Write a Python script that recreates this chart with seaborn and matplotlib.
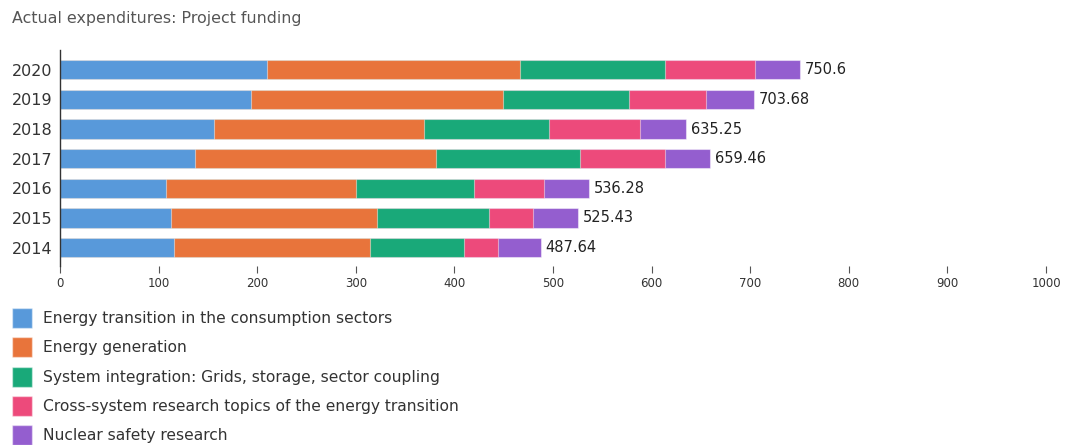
import numpy as np
import pandas as pd
import seaborn as sns
import matplotlib
matplotlib.use("Agg")
import matplotlib.pyplot as plt
from matplotlib.patches import Patch

# Project funding per year (million EUR), broken down by research area
years = ["2020", "2019", "2018", "2017", "2016", "2015", "2014"]
consumption = [210.1, 194.2, 156.0, 137.4, 108.0, 112.1, 115.8]
generation = [256.2, 255.3, 212.7, 244.4, 192.0, 209.9, 199.1]
integration = [146.8, 127.4, 127.0, 145.1, 119.7, 113.3, 95.0]
cross_system = [91.6, 78.1, 92.3, 86.2, 71.3, 44.6, 34.8]
nuclear = [45.9, 48.68, 47.25, 46.36, 45.28, 45.53, 42.94]

categories = [
    "Energy transition in the consumption sectors",
    "Energy generation",
    "System integration: Grids, storage, sector coupling",
    "Cross-system research topics of the energy transition",
    "Nuclear safety research",
]
colors = ["#5899DA", "#E8743B", "#19A979", "#ED4A7B", "#945ECF"]

series = [consumption, generation, integration, cross_system, nuclear]
df = pd.DataFrame({"year": years})
for name, vals in zip(categories, series):
    df[name] = vals
cum = df[categories].cumsum(axis=1)
totals = df[categories].sum(axis=1).round(2)

sns.set_style("white")
plt.rcParams["font.family"] = ["DejaVu Sans"]

fig = plt.figure(figsize=(10.7, 4.45), dpi=100)
ax = fig.add_axes([60 / 1070, 1 - 266 / 445, 986 / 1070, 216 / 445])

# Stacked bars: draw cumulative totals from the outermost segment inwards
for name, col in reversed(list(zip(categories, colors))):
    sns.barplot(x=cum[name], y=df["year"], order=years, orient="h",
                color=col, width=0.65, edgecolor=(1, 1, 1, 0.45),
                linewidth=0.8, saturation=1, ax=ax)

for i, t in enumerate(totals):
    ax.text(t + 5, i, f"{t:g}", va="center", ha="left",
            fontsize=10.5, color="#222222")

ax.set_xlim(0, 1000)
ax.set_ylim(6.62, -0.665)
ax.set_xticks(np.arange(0, 1001, 100))
ax.set_xlabel("")
ax.set_ylabel("")
for s in ["top", "right", "bottom"]:
    ax.spines[s].set_visible(False)
ax.spines["left"].set_color("#333333")
ax.spines["left"].set_linewidth(1)
ax.tick_params(axis="y", length=0, pad=5.5, labelsize=11.5, labelcolor="#333333")
ax.tick_params(axis="x", length=5, width=0.8, color="#555555", pad=3,
               labelsize=8.5, labelcolor="#333333", bottom=True)

fig.text(12 / 1070, 1 - 18 / 445, "Actual expenditures: Project funding",
         fontsize=11.4, color="#555555", va="center", ha="left")

handles = [Patch(facecolor=c, edgecolor=(1, 1, 1, 0.45), label=n)
           for n, c in zip(categories, colors)]
fig.legend(handles=handles, loc="upper left",
           bbox_to_anchor=(12 / 1070, 1 - 308 / 445), frameon=False,
           fontsize=11.2, labelcolor="#333333", handlelength=1.3,
           handleheight=1.6, handletextpad=0.7, labelspacing=0.6,
           borderpad=0, borderaxespad=0)

fig.savefig("out.png", dpi=100)
